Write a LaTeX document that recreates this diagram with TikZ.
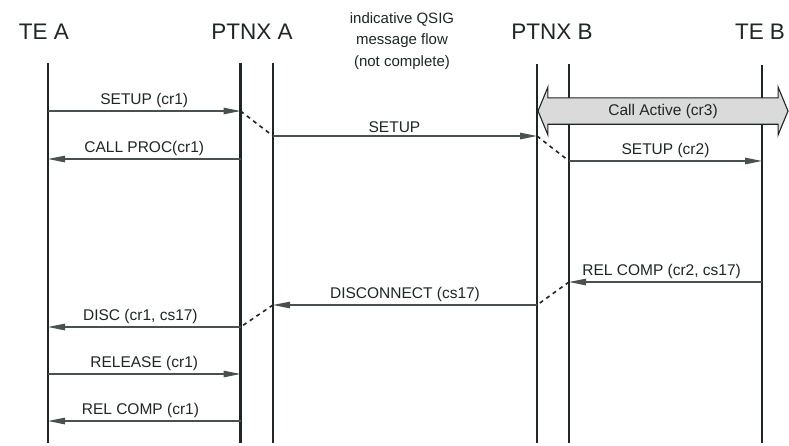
\documentclass[tikz,border=0pt]{standalone}
\usepackage{fontspec}
\setmainfont{Liberation Sans}
\usetikzlibrary{arrows.meta,shapes.arrows}
\definecolor{seqDark}{RGB}{30,38,38}
\definecolor{seqGray}{RGB}{72,80,80}
\definecolor{seqBand}{RGB}{218,218,218}

\begin{document}
\begin{tikzpicture}[
  x=1pt, y=-1pt,
  every node/.style={align=center, text=seqDark},
  headlabel/.style={font=\fontsize{22.5}{26}\selectfont},
  notelabel/.style={font=\fontsize{15}{21.5}\selectfont},
  msglabel/.style={font=\fontsize{15.5}{18}\selectfont, above, inner sep=2.5pt},
  lifeline/.style={draw=seqDark, line width=2.4pt},
  msg/.style={-{Triangle[length=17pt,width=6.5pt]}, line width=1.1pt, draw=seqGray},
  hop/.style={draw=seqDark, line width=1.6pt, dash pattern=on 4pt off 4pt},
  activeband/.style={shape=double arrow, draw=seqDark, line width=1.1pt, fill=seqBand,
    minimum height=250pt, minimum width=48pt, double arrow head extend=8pt,
    double arrow tip angle=135, inner sep=2pt, font=\fontsize{15.5}{18}\selectfont}
]
\useasboundingbox (0,0) rectangle (789,445);

% - Entities -
\node[headlabel] (teA) at (44,32) {TE A};
\node[headlabel] (ptnxA) at (252,32) {PTNX A};
\node[headlabel] (ptnxB) at (552,32) {PTNX B};
\node[headlabel] (teB) at (760,32) {TE B};
\node[notelabel] (qsig) at (402,41) {indicative QSIG\\message flow\\(not complete)};

% - Lifelines -
\coordinate (teAtop) at (48,63);     \coordinate (teAbot) at (48,443);
\coordinate (pAltop) at (240.5,63);  \coordinate (pAlbot) at (240.5,443);
\coordinate (pArtop) at (273,63);    \coordinate (pArbot) at (273,443);
\coordinate (pBltop) at (537,64);    \coordinate (pBlbot) at (537,443);
\coordinate (pBrtop) at (569,64);    \coordinate (pBrbot) at (569,443);
\coordinate (teBtop) at (762,65);    \coordinate (teBbot) at (762,443);

\draw[lifeline] (teAtop) -- (teAbot);
\draw[lifeline] (pAltop) -- (pAlbot);
\draw[lifeline] (pArtop) -- (pArbot);
\draw[lifeline] (pBltop) -- (pBlbot);
\draw[lifeline] (pBrtop) -- (pBrbot);
\draw[lifeline] (teBtop) -- (teBbot);

% - Call active band -
\node[activeband] (active) at (663,111) {Call Active (cr3)};

% - Set up -
\coordinate (s1a) at (teAtop |- 0,111);  \coordinate (s1b) at (pAltop |- 0,111);
\coordinate (s2a) at (pArtop |- 0,136);  \coordinate (s2b) at (pBltop |- 0,136);
\coordinate (c1a) at (pAltop |- 0,159);  \coordinate (c1b) at (teAtop |- 0,159);
\coordinate (s3a) at (pBrtop |- 0,161);  \coordinate (s3b) at (teBtop |- 0,161);

\draw[msg] (s1a) -- node[msglabel] {SETUP (cr1)} (s1b);
\draw[hop] (s1b) -- (s2a);
\draw[msg] (s2a) -- node[msglabel, pos=0.46] {SETUP} (s2b);
\draw[msg] (c1a) -- node[msglabel] {CALL PROC(cr1)} (c1b);
\draw[hop] (s2b) -- (s3a);
\draw[msg] (s3a) -- node[msglabel] {SETUP (cr2)} (s3b);

% - Clear down -
\coordinate (r1a) at (teBtop |- 0,282);  \coordinate (r1b) at (pBrtop |- 0,282);
\coordinate (d1a) at (pBltop |- 0,305);  \coordinate (d1b) at (pArtop |- 0,305);
\coordinate (d2a) at (pAltop |- 0,327);  \coordinate (d2b) at (teAtop |- 0,327);
\coordinate (r2a) at (teAtop |- 0,374);  \coordinate (r2b) at (pAltop |- 0,374);
\coordinate (r3a) at (pAltop |- 0,421);  \coordinate (r3b) at (teAtop |- 0,421);

\draw[msg] (r1a) -- node[msglabel, pos=0.52] {REL COMP (cr2, cs17)} (r1b);
\draw[hop] (r1b) -- (d1a);
\draw[msg] (d1a) -- node[msglabel] {DISCONNECT (cs17)} (d1b);
\draw[hop] (d1b) -- (d2a);
\draw[msg] (d2a) -- node[msglabel, pos=0.52] {DISC (cr1, cs17)} (d2b);
\draw[msg] (r2a) -- node[msglabel] {RELEASE (cr1)} (r2b);
\draw[msg] (r3a) -- node[msglabel, pos=0.52] {REL COMP (cr1)} (r3b);

\end{tikzpicture}
\end{document}
